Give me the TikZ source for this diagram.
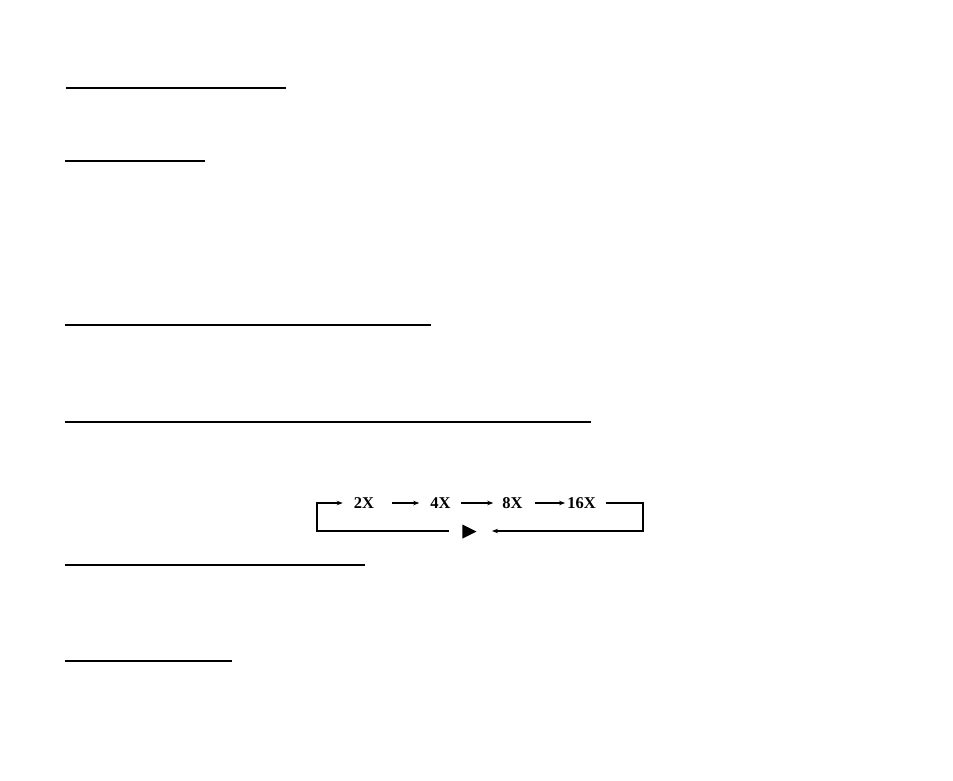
\documentclass[tikz,border=0pt]{standalone}
\usepackage{fontspec}
\setmainfont{Liberation Serif}
\usepackage{tikz}
\usetikzlibrary{shapes.geometric}
\usetikzlibrary{arrows.meta}

\begin{document}
\begin{tikzpicture}[x=1pt, y=-1pt, >={Stealth[length=6pt, width=4.5pt]},
  every node/.style={inner sep=0pt, font=\fontsize{16.5}{20}\selectfont\bfseries},
  heading rule/.style={line width=1.3pt},
  flow/.style={line width=1.1pt}]
\useasboundingbox (0,0) rectangle (953,780);

% underlines of the section headings
\draw [heading rule] (66,88) -- (286,88);
\draw [heading rule] (65,161) -- (205,161);
\draw [heading rule] (65,325) -- (431,325);
\draw [heading rule] (65,422) -- (591,422);
\draw [heading rule] (65,565) -- (365,565);
\draw [heading rule] (65,661) -- (232,661);

% speed loop
\node (x2) at (364,503) {2X};
\node (x4) at (440.5,503) {4X};
\node (x8) at (512.5,503) {8X};
\node (x16) at (581.5,503) {16X};
\node (play) [isosceles triangle, isosceles triangle stretches, fill, minimum width=14pt, minimum height=14pt, anchor=apex] at (477,531.5) {};

\coordinate (back) at (317,531);
\coordinate (ret) at (643,531);

\draw [flow, ->, shorten <=18pt, shorten >=11pt] (x2.east) -- (x4.west);
\draw [flow, ->, shorten <=10pt, shorten >=9pt] (x4.east) -- (x8.west);
\draw [flow, ->, shorten <=12pt, shorten >=2pt] (x8.east) -- (x16.west);
\draw [flow, ->, shorten <=10pt, shorten >=15pt] (x16.east) -| (ret) -- (play.apex |- ret);
\draw [flow, ->, shorten <=13pt, shorten >=11pt] (play.west |- back) -- (back) |- (x2.west);

\end{tikzpicture}
\end{document}
